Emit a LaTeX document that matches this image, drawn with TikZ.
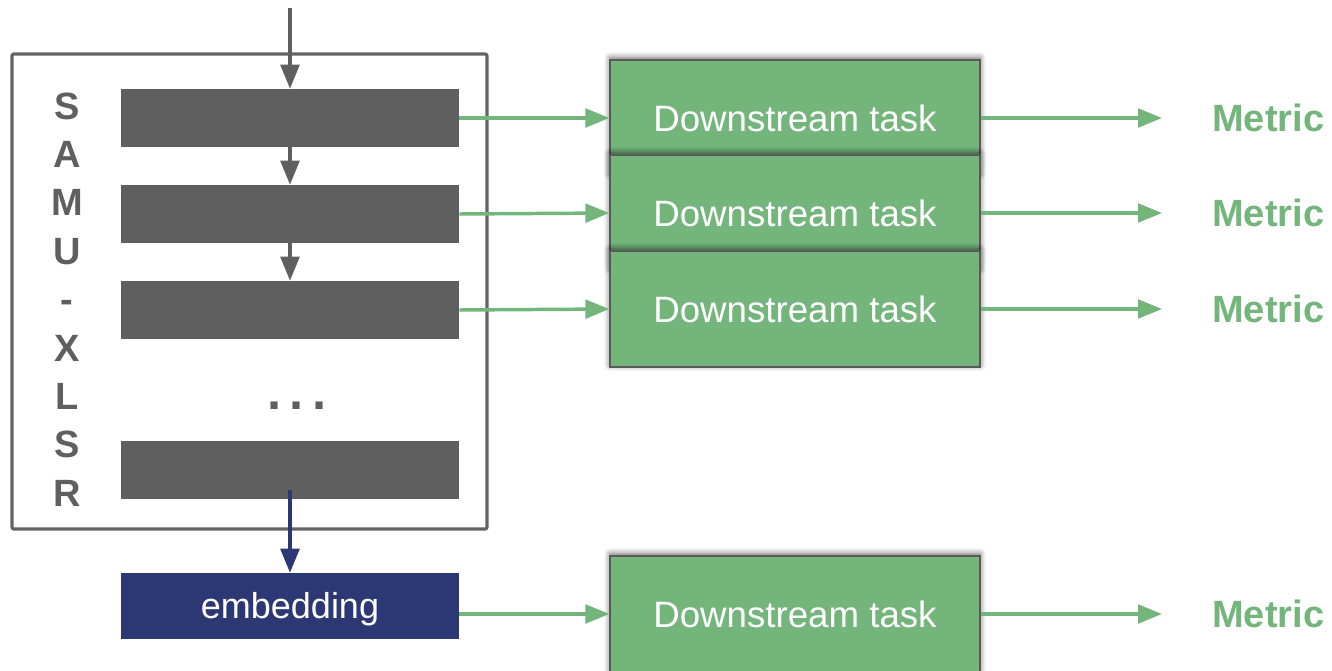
\documentclass[tikz,border=0pt]{standalone}
\usepackage{fontspec}
\setmainfont{Liberation Sans}
\usepackage{xcolor}
\usepackage{tikz}
\usetikzlibrary{arrows.meta,positioning,shadows.blur}

\definecolor{layergray}{RGB}{95,95,95}
\definecolor{framegray}{RGB}{100,100,100}
\definecolor{taskgreen}{RGB}{115,181,122}
\definecolor{embnavy}{RGB}{44,56,115}

\begin{document}
\begin{tikzpicture}[
  x=0.75pt, y=-0.75pt,
  >={Triangle[length=18pt,width=14pt]},
  layer/.style={fill=layergray, minimum width=253.5pt, minimum height=43.5pt, inner sep=0pt},
  task/.style={fill=taskgreen, draw=black!65, line width=1pt, minimum width=277.5pt, minimum height=87pt,
    text=white, font=\fontsize{27.5}{30}\selectfont,
    blur shadow={shadow xshift=0pt, shadow yshift=1.5pt, shadow blur radius=4.5pt, shadow opacity=65}},
  metric/.style={anchor=west, inner sep=0pt, text=taskgreen, font=\fontsize{28.5}{30}\selectfont\bfseries},
  letter/.style={anchor=base, inner sep=0pt, text=layergray, font=\fontsize{28.5}{30}\selectfont\bfseries},
  flow/.style={->, draw=layergray, line width=2.6pt},
  probe/.style={->, draw=taskgreen, line width=2.6pt}
]
\useasboundingbox (0,0) rectangle (1332,671);

% Encoder frame and its name
\draw[framegray, line width=2.4pt, rounded corners=1.5pt] (12,54) rectangle (487,529);
\foreach \ch [count=\i from 0] in {S,A,M,U,-,X,L,S,R}{
  \node[letter] (ch\i) at (67, 119+48.4*\i) {\ch};
}

% Layers
\node[layer] (bar1) at (290,118) {};
\node[layer] (bar2) at (290,214) {};
\node[layer] (bar3) at (290,310) {};
\node[layer] (bar4) at (290,470) {};
\node[text=layergray, font=\fontsize{38}{40}\selectfont\bfseries] (dots) at (297,406) {.\hspace{6.5pt}.\hspace{6.5pt}.};
\node[fill=embnavy, minimum width=253.5pt, minimum height=49.5pt, text=white,
  text height=20pt, text depth=1.3pt,
  font=\fontsize{27}{30}\selectfont] (emb) at (290,606) {embedding};

% Input and layer-to-layer arrows
\coordinate (in) at (290,8);
\draw[flow] (in) -- (bar1.north);
\draw[flow] (bar1.south) -- (bar2.north);
\draw[flow] (bar2.south) -- (bar3.north);
\draw[->, draw=embnavy, line width=2.6pt] ([yshift=6.75pt]bar4.south) -- (emb.north);

% Downstream tasks (drawn top to bottom, so each covers the one above)
\node[task] (task1) at (795,118) {Downstream task};
\node[task] (task2) at (795,213) {Downstream task};
\node[task] (task3) at (795,309) {Downstream task};
\node[task] (task4) at (795,614) {Downstream task};

% Metrics
\foreach \n/\y in {1/118, 2/213, 3/309, 4/614}{
  \node[metric] (metric\n) at (1212,\y) {Metric};
}

% Probing arrows
\draw[probe] (bar1.east) -- (task1.west);
\draw[probe] (bar2.east) -- (task2.west);
\draw[probe] (bar3.east) -- (task3.west);
\draw[probe] (emb.east |- task4) -- (task4.west);
\foreach \n in {1,2,3,4}{
  \draw[probe, shorten >=37.5pt] (task\n.east) -- (metric\n.west);
}
\end{tikzpicture}
\end{document}
